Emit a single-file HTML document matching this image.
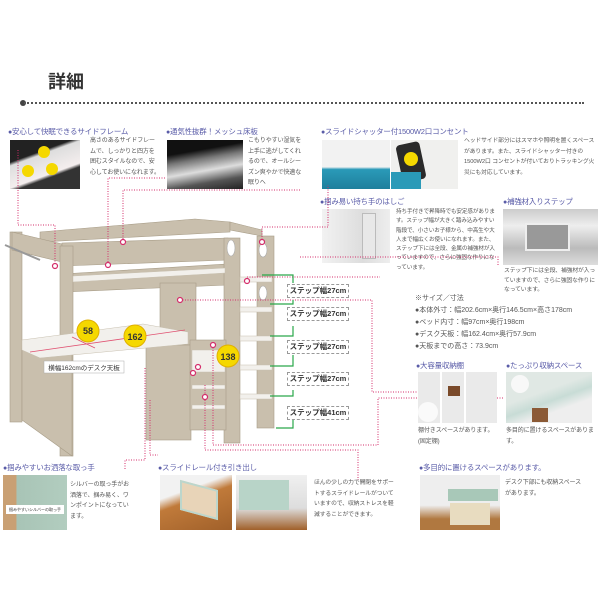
<!DOCTYPE html>
<html><head><meta charset="utf-8"><style>
*{margin:0;padding:0;box-sizing:border-box}
body{width:600px;height:600px;background:#fff;position:relative;overflow:hidden;font-family:"Liberation Sans","Noto Sans CJK JP",sans-serif;color:#555}
.a{position:absolute}
.lb{position:absolute;font-size:7.5px;color:#5a5ca8;white-space:nowrap;letter-spacing:-0.2px}
.lb:before{content:"●";color:#5a5ca8;font-size:7px}
.tx{position:absolute;font-size:6px;line-height:10.5px;color:#555;letter-spacing:-0.1px}
.ph{position:absolute;overflow:hidden}
.st{position:absolute;width:62px;height:14px;border:1px dashed #999;background:#fff;font-size:7.5px;font-weight:bold;color:#333;text-align:center;line-height:12px}
.sz{position:absolute;left:415px;font-size:7px;color:#555;white-space:nowrap}
</style></head><body>

<div class="a" style="left:48px;top:68px;font-size:18px;font-weight:bold;color:#333">詳細</div>
<div class="a" style="left:20px;top:100px;width:6px;height:6px;border-radius:3px;background:#444"></div>
<div class="a" style="left:24px;top:102px;width:560px;border-top:2px dotted #555"></div>

<div class="lb" style="left:8px;top:126px">安心して快眠できるサイドフレーム</div>
<div class="ph" style="left:10px;top:140px;width:70px;height:49px;background:linear-gradient(160deg,#222 0 30%,#ddd 35%,#f4eeee 65%,#333 70%)">
 <div class="a" style="left:28px;top:6px;width:12px;height:12px;border-radius:6px;background:#f5d800"></div>
 <div class="a" style="left:12px;top:25px;width:12px;height:12px;border-radius:6px;background:#f5d800"></div>
 <div class="a" style="left:36px;top:23px;width:12px;height:12px;border-radius:6px;background:#f5d800"></div>
</div>
<div class="tx" style="left:90px;top:136px;width:70px">高さのあるサイドフレームで、しっかりと四方を囲むスタイルなので、安心してお使いになれます。</div>

<div class="lb" style="left:166px;top:126px">通気性抜群！メッシュ床板</div>
<div class="ph" style="left:167px;top:140px;width:76px;height:49px;background:linear-gradient(170deg,#111 0 25%,#777 40%,#ddd 60%,#555 80%,#222)"></div>
<div class="tx" style="left:248px;top:136px;width:55px">こもりやすい湿気を上手に逃がしてくれるので、オールシーズン爽やかで快適な眠りへ</div>

<div class="lb" style="left:321px;top:126px">スライドシャッター付1500W2口コンセント</div>
<div class="ph" style="left:322px;top:140px;width:68px;height:49px;background:linear-gradient(180deg,#f2f2f2 0 55%,#2a9ab8 60%,#1e7f9c)"></div>
<div class="ph" style="left:391px;top:140px;width:67px;height:49px;background:#f0f0ee">
 <div class="a" style="left:8px;top:3px;width:24px;height:38px;border-radius:4px;background:#2a2a2a;transform:rotate(-12deg)"></div>
 <div class="a" style="left:13px;top:12px;width:14px;height:14px;border-radius:7px;background:#f5d800"></div>
 <div class="a" style="left:0;top:32px;width:30px;height:17px;background:#2a9ab8"></div>
</div>
<div class="tx" style="left:464px;top:136px;width:134px;font-size:5.8px">ヘッドサイド部分にはスマホや照明を置くスペースがあります。また、スライドシャッター付きの1500W2口 コンセントが付いておりトラッキング火災にも対応しています。</div>

<div class="lb" style="left:320px;top:196px">掴み易い持ち手のはしご</div>
<div class="ph" style="left:322px;top:209px;width:68px;height:54px;background:linear-gradient(90deg,#f2f2f2,#ddd 60%,#eee)">
 <div class="a" style="left:40px;top:4px;width:14px;height:46px;background:#e8e8e8;border:1px solid #bbb"></div>
</div>
<div class="tx" style="left:396px;top:208px;width:102px;font-size:5.6px;line-height:9.3px">持ち手付きで昇降時でも安定感があります。ステップ幅が大きく踏み込みやすい階段で、小さいお子様から、中高生や大人まで幅広くお使いになれます。また、ステップ下には全段、金属の補強材が入っていますので、さらに強固な作りになっています。</div>

<div class="lb" style="left:503px;top:196px">補強材入りステップ</div>
<div class="ph" style="left:503px;top:209px;width:95px;height:56px;background:linear-gradient(180deg,#ccc,#eee 30%,#bbb 70%,#ddd)">
 <div class="a" style="left:22px;top:14px;width:45px;height:28px;background:#999;border:2px solid #eee"></div>
</div>
<div class="tx" style="left:504px;top:267px;width:95px;font-size:5.8px;line-height:9.5px">ステップ下には全段、補強材が入っていますので、さらに強固な作りになっています。</div>

<div class="sz" style="top:293px">※サイズ／寸法</div>
<div class="sz" style="top:305px">●本体外寸：幅202.6cm×奥行146.5cm×高さ178cm</div>
<div class="sz" style="top:317px">●ベッド内寸：幅97cm×奥行198cm</div>
<div class="sz" style="top:329px">●デスク天板：幅162.4cm×奥行57.9cm</div>
<div class="sz" style="top:341px">●天板までの高さ：73.9cm</div>

<div class="lb" style="left:416px;top:360px">大容量収納棚</div>
<div class="ph" style="left:418px;top:372px;width:79px;height:51px;background:#eaeaea">
 <div class="a" style="left:22px;top:0;width:26px;height:51px;border-left:2px solid #fff;border-right:2px solid #fff"></div>
 <div class="a" style="left:30px;top:14px;width:12px;height:10px;background:#7a4a2a"></div>
 <div class="a" style="left:0;top:30px;width:20px;height:20px;border-radius:10px;background:#fafafa"></div>
</div>
<div class="tx" style="left:418px;top:426px;width:80px">棚付きスペースがあります。(固定棚)</div>

<div class="lb" style="left:506px;top:360px">たっぷり収納スペース</div>
<div class="ph" style="left:506px;top:372px;width:86px;height:51px;background:linear-gradient(160deg,#e0e8e4 0 40%,#c8dcd6 55%,#eee 70%)">
 <div class="a" style="left:5px;top:3px;width:18px;height:18px;border-radius:9px;background:#f8f8f8"></div>
 <div class="a" style="left:26px;top:36px;width:16px;height:14px;background:#8b5a36"></div>
</div>
<div class="tx" style="left:506px;top:426px;width:88px">多目的に置けるスペースがあります。</div>

<div class="lb" style="left:3px;top:462px">掴みやすいお洒落な取っ手</div>
<div class="ph" style="left:3px;top:475px;width:64px;height:55px;background:linear-gradient(90deg,#c9a074 0 20%,#a8c4b6 22%,#b2cdbf)">
 <div class="a" style="left:3px;top:30px;width:58px;height:9px;background:#fff;font-size:4px;line-height:9px;color:#333;text-align:center">掴みやすいシルバーの取っ手</div>
</div>
<div class="tx" style="left:70px;top:480px;width:62px">シルバーの取っ手がお洒落で、掴み易く、ワンポイントになっています。</div>

<div class="lb" style="left:158px;top:462px">スライドレール付き引き出し</div>
<div class="ph" style="left:160px;top:475px;width:72px;height:55px;background:linear-gradient(160deg,#f2f2f2 0 30%,#c07a3a 45%,#a0602a)">
 <div class="a" style="left:20px;top:10px;width:38px;height:30px;background:#e8d4b8;border:2px solid #bcd6cc;transform:skewY(15deg)"></div>
</div>
<div class="ph" style="left:236px;top:475px;width:71px;height:55px;background:linear-gradient(180deg,#f0f0f0,#ddd 60%,#a0602a)">
 <div class="a" style="left:3px;top:5px;width:50px;height:30px;background:#b8d4c8"></div>
</div>
<div class="tx" style="left:314px;top:478px;width:82px;font-size:5.8px">ほんの少しの力で開閉をサポートするスライドレールがついていますので、収納ストレスを軽減することができます。</div>

<div class="lb" style="left:419px;top:462px">多目的に置けるスペースがあります。</div>
<div class="ph" style="left:420px;top:475px;width:80px;height:55px;background:linear-gradient(180deg,#eee 0 55%,#b07840 80%)">
 <div class="a" style="left:28px;top:14px;width:50px;height:12px;background:#a8c8b8"></div>
 <div class="a" style="left:30px;top:28px;width:40px;height:22px;background:#e8dcc0"></div>
</div>
<div class="tx" style="left:505px;top:478px;width:80px">デスク下部にも収納スペースがあります。</div>

<svg class="a" style="left:0;top:0" width="600" height="600">
<g fill="#c9bfad" stroke="#a89d88" stroke-width="0.6">
 <polygon points="40,232 195,219 230,222 230,232 40,242"/>
 <rect x="10" y="232" width="12" height="190"/>
 <polygon points="12,232 62,244 62,262 12,250"/>
 <polygon points="62,243 228,238 228,260 62,266"/>
 <polygon points="62,274 228,264 228,285 62,292"/>
 <rect x="60" y="246" width="13" height="210"/>
 <polygon points="230,222 262,230 262,236 230,230"/>
 <rect x="224" y="238" width="16" height="205"/>
 <rect x="257" y="236" width="17" height="192"/>
 <rect x="160" y="283" width="36" height="62"/>
 <rect x="146" y="345" width="45" height="95"/>
 <rect x="190" y="340" width="36" height="90"/>
 <polygon points="22,348 72,350 72,456 22,420"/>
</g>
<g fill="#f2f0ec" stroke="#c8c0b0" stroke-width="0.5">
 <polygon points="73,276 225,268 225,273 73,282"/>
 <polygon points="22,340 143,324 188,332 188,344 40,358 22,350"/>
 <rect x="192" y="350" width="33" height="22"/>
 <rect x="240" y="277" width="32" height="5"/>
 <rect x="240" y="307" width="32" height="5"/>
 <rect x="240" y="336" width="32" height="5"/>
 <rect x="240" y="365" width="32" height="5"/>
 <rect x="240" y="394" width="32" height="5"/>
 <rect x="192" y="385" width="33" height="4"/>
 <rect x="192" y="405" width="33" height="4"/>
</g>
<g fill="#fff" stroke="#aaa" stroke-width="0.6">
 <ellipse cx="231" cy="248" rx="4" ry="8"/><ellipse cx="263" cy="250" rx="4" ry="7"/><ellipse cx="263" cy="293" rx="4" ry="7"/>
</g>
<g fill="none" stroke="#e05070" stroke-width="0.8">
 <line x1="30" y1="352" x2="185" y2="330"/><line x1="72" y1="337" x2="95" y2="348"/>
</g>
<g fill="#f5d800" stroke="#e0b000">
 <circle cx="88" cy="331" r="11"/><circle cx="135" cy="336" r="11"/><circle cx="228" cy="356" r="11"/>
</g>
<g font-family="Liberation Sans" font-weight="bold" fill="#333" text-anchor="middle">
 <text x="88" y="334" font-size="9">58</text><text x="135" y="340" font-size="9">162</text><text x="228" y="360" font-size="9">138</text>
</g>
<rect x="44" y="361" width="80" height="12" fill="#fff" stroke="#aaa" stroke-width="0.5"/>
<text x="84" y="370" font-size="6.5" text-anchor="middle" fill="#333" font-family="Liberation Sans,Noto Sans CJK JP,sans-serif">横幅162cmのデスク天板</text>

<g stroke="#d42d6a" stroke-width="1" stroke-dasharray="1,1.5" fill="none">
 <polyline points="18,150 18,225 55,225 55,265"/>
 <polyline points="165,178 108,178 108,263"/>
 <polyline points="300,190 123,190 123,241"/>
 <polyline points="262,242 262,227 328,227 328,185"/>
 <polyline points="262,227 300,227"/>
 <polyline points="247,277 380,277"/>
 <polyline points="300,257 498,257 498,265"/>
 <polyline points="180,300 372,300 372,392 418,392"/>
 <polyline points="213,345 213,445 378,445 378,398 418,398"/>
 <polyline points="205,385 205,450 358,450 358,480"/>
 <polyline points="145,368 145,460 125,460 125,470"/>
 <polyline points="150,400 150,455 158,455"/>
 <polyline points="497,398 503,398"/>
</g>
<g fill="#fff" stroke="#d42d6a" stroke-width="1.2">
 <circle cx="55" cy="266" r="2.5"/><circle cx="108" cy="265" r="2.5"/><circle cx="123" cy="242" r="2.5"/>
 <circle cx="262" cy="242" r="2.5"/><circle cx="247" cy="281" r="2.5"/><circle cx="180" cy="300" r="2.5"/>
 <circle cx="213" cy="345" r="2.5"/><circle cx="198" cy="367" r="2.5"/><circle cx="193" cy="373" r="2.5"/><circle cx="205" cy="397" r="2.5"/>
</g>
<g stroke="#2aa84a" stroke-width="1.2" fill="none">
 <polyline points="262,275 293,275 293,283"/>
 <polyline points="270,304 293,304 293,300"/>
 <polyline points="293,326 293,336 270,336"/>
 <polyline points="293,355 293,366 270,366"/>
 <polyline points="293,390 293,396 270,396"/>
 <polyline points="293,420 293,428 276,428"/>
</g>
<polyline points="5,245 40,260" stroke="#999" stroke-width="2" fill="none"/>
</svg>
<div class="st" style="left:287px;top:284px">ステップ幅27cm</div>
<div class="st" style="left:287px;top:307px">ステップ幅27cm</div>
<div class="st" style="left:287px;top:340px">ステップ幅27cm</div>
<div class="st" style="left:287px;top:372px">ステップ幅27cm</div>
<div class="st" style="left:287px;top:406px">ステップ幅41cm</div>
</body></html>
